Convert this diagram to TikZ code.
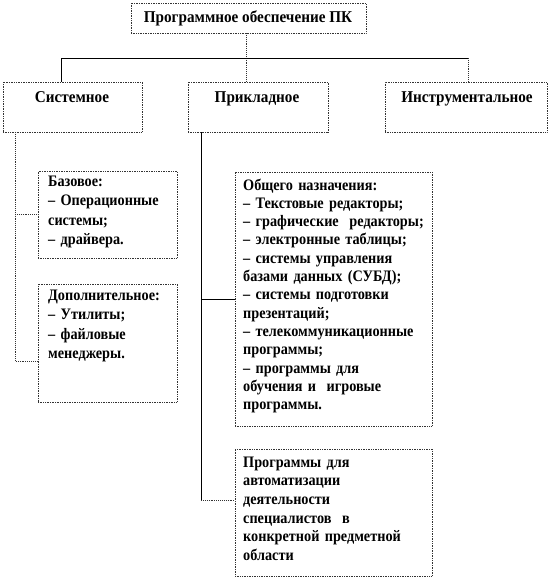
\documentclass[tikz,border=0pt]{standalone}
\usepackage{fontspec}
\setmainfont{Liberation Serif}
\newfontfamily\cfont[FakeStretch=0.89]{Liberation Serif}
\newfontfamily\hfont[FakeStretch=0.92]{Liberation Serif}
\begin{document}
\begin{tikzpicture}[x=1pt,y=-1pt,
  box/.style={draw=black!80, densely dotted, line width=0.7pt, anchor=north west, inner sep=0pt, outer sep=0pt},
  solidline/.style={draw=black, line width=0.8pt},
  dotline/.style={draw=black!80, densely dotted, line width=0.9pt},
  hd/.style={font=\hfont\fontsize{16.5}{18}\selectfont\bfseries, inner sep=0pt, anchor=base},
  txt/.style={font=\cfont\fontsize{16}{19.5}\selectfont\bfseries, inner sep=0pt, anchor=base west, align=left, text width=300pt}]
\useasboundingbox (0,0) rectangle (551,579);
% boxes
\node[box, minimum width=235pt, minimum height=30pt] (top) at (131,3) {};
\node[box, minimum width=139pt, minimum height=50pt] (sys) at (3,82) {};
\node[box, minimum width=140pt, minimum height=50pt] (app) at (188,82) {};
\node[box, minimum width=162pt, minimum height=50pt] (ins) at (385,82) {};
\node[box, minimum width=139pt, minimum height=87pt] (base) at (38,171) {};
\node[box, minimum width=139pt, minimum height=118pt] (add) at (38,284) {};
\node[box, minimum width=197pt, minimum height=254pt] (gen) at (235,172) {};
\node[box, minimum width=197pt, minimum height=127pt] (auto) at (235,449) {};
% texts
\node[hd] (topT) at (248,22) {Программное обеспечение ПК};
\node[hd] (sysT) at (72,102) {Системное};
\node[hd] (appT) at (257,102) {Прикладное};
\node[hd] (insT) at (467,102) {Инструментальное};
\node[txt] (baseT) at (48,186) {Базовое:\\– Операционные\\системы;\\– драйвера.};
\node[txt] (addT) at (48,300) {Дополнительное:\\– Утилиты;\\– файловые\\менеджеры.};
\node[txt, font=\cfont\fontsize{16}{18.3}\selectfont\bfseries] (genT) at (243,190) {Общего назначения:\\– Текстовые редакторы;\\– графические~ редакторы;\\– электронные таблицы;\\– системы управления\\базами данных (СУБД);\\– системы подготовки\\презентаций;\\– телекоммуникационные\\программы;\\– программы для\\обучения и~ игровые\\программы.};
\node[txt, font=\cfont\fontsize{16}{18.7}\selectfont\bfseries] (autoT) at (243,467) {Программы для\\автоматизации\\деятельности\\специалистов~ в\\конкретной предметной\\области};
% junctions
\coordinate (jc) at (246,58);
\coordinate (jl) at (61,58);
\coordinate (jr) at (468,58);
\coordinate (sl) at (15,132);
\coordinate (sb) at (15,361);
\coordinate (al) at (201,132);
\coordinate (ab) at (201,500);
% connectors
\draw[dotline] (top.south -| jc) -- (jc) -- (app.north -| jc);
\draw[solidline] (jl) -- (jr);
\draw[solidline] (jl) -- (sys.north -| jl);
\draw[dotline] (jr) -- (ins.north -| jr);
\draw[dotline] (sl) -- (sb) -- (sb -| add.west);
\draw[dotline] (base.west -| sl) -- (base.west);
\draw[solidline] (al) -- (ab);
\draw[solidline] (gen.west -| al) -- (gen.west);
\draw[dotline] (ab) -- (ab -| auto.west);
\end{tikzpicture}
\end{document}
